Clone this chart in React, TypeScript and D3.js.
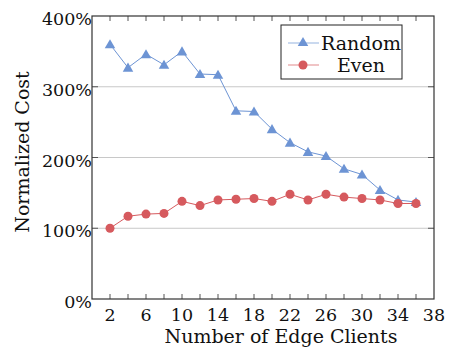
import React, { useRef, useEffect } from "react";
import * as d3 from "d3";

// number of edge clients
const clients = [2, 4, 6, 8, 10, 12, 14, 16, 18, 20, 22, 24, 26, 28, 30, 32, 34, 36];
// normalized cost in percent
const randomCost = [360, 327, 346, 331, 350, 318, 317, 266, 265, 240, 221, 208, 202, 184, 176, 154, 140, 137];
const evenCost = [100, 117, 120, 121, 138, 132, 140, 141, 142, 138, 148, 140, 148, 144, 142, 140, 135, 135];
const xTickLabels = [2, 6, 10, 14, 18, 22, 26, 30, 34, 38];
const yTickLabels = [0, 100, 200, 300, 400];
const seriesNames = ["Random", "Even"];

const App: React.FC = () => {
    const svgRef = useRef<SVGSVGElement | null>(null);

    useEffect(() => {
        const width = 450;
        const height = 349;
        const svg = d3.select(svgRef.current);
        svg.selectAll("*").remove();
        svg.attr("width", width).attr("height", height);

        const left = 92, right = 434, top = 16, bottom = 299;
        const font = "DejaVu Serif";
        const blue = "#6d94d4";
        const red = "#d65a5e";

        const x = d3.scaleLinear().domain([0, 38]).range([left, right]);
        const y = d3.scaleLinear().domain([0, 400]).range([bottom, top]);

        // grid lines
        svg.append("g")
            .selectAll("line")
            .data(yTickLabels.filter((v) => v > 0 && v < 400))
            .enter()
            .append("line")
            .attr("x1", left)
            .attr("x2", right)
            .attr("y1", (d) => y(d))
            .attr("y2", (d) => y(d))
            .attr("stroke", "#c8c8c8")
            .attr("stroke-width", 1);

        // inward ticks, every 2 on x, every 100 on y
        const minorX = d3.range(2, 38, 2);
        const ticks = svg.append("g").attr("stroke", "#555").attr("stroke-width", 1);
        minorX.forEach((v) => {
            ticks.append("line").attr("x1", x(v)).attr("x2", x(v)).attr("y1", bottom).attr("y2", bottom - 5);
            ticks.append("line").attr("x1", x(v)).attr("x2", x(v)).attr("y1", top).attr("y2", top + 5);
        });
        yTickLabels.filter((v) => v > 0 && v < 400).forEach((v) => {
            ticks.append("line").attr("x1", left).attr("x2", left + 6).attr("y1", y(v)).attr("y2", y(v));
            ticks.append("line").attr("x1", right).attr("x2", right - 6).attr("y1", y(v)).attr("y2", y(v));
        });

        // frame
        svg.append("rect")
            .attr("x", left)
            .attr("y", top)
            .attr("width", right - left)
            .attr("height", bottom - top)
            .attr("fill", "none")
            .attr("stroke", "#333")
            .attr("stroke-width", 1.2);

        const txt = (fs: number) => (g: d3.Selection<any, any, any, any>) =>
            g.style("font-family", font).style("font-size", `${fs}px`).attr("fill", "#111");

        // tick labels
        svg.append("g")
            .call(txt(17.5))
            .selectAll("text")
            .data(xTickLabels)
            .enter()
            .append("text")
            .attr("x", (d) => x(d))
            .attr("y", 321)
            .attr("text-anchor", "middle")
            .text((d) => d);

        svg.append("g")
            .call(txt(17.5))
            .selectAll("text")
            .data(yTickLabels)
            .enter()
            .append("text")
            .attr("x", left)
            .attr("y", (d) => y(d) + 9)
            .attr("text-anchor", "end")
            .text((d) => `${d}%`);

        // axis titles
        svg.append("text")
            .call(txt(19))
            .attr("x", 281)
            .attr("y", 343)
            .attr("text-anchor", "middle")
            .text("Number of Edge Clients");

        svg.append("text")
            .call(txt(19))
            .attr("transform", `translate(29, 152) rotate(-90)`)
            .attr("text-anchor", "middle")
            .text("Normalized Cost");

        // lines
        const line = d3.line<number>()
            .x((_, i) => x(clients[i]))
            .y((d) => y(d));

        const tri = d3.symbol().type(d3.symbolTriangle).size(48);

        svg.append("path")
            .attr("d", line(randomCost))
            .attr("fill", "none")
            .attr("stroke", blue)
            .attr("stroke-width", 1);
        svg.append("g")
            .selectAll("path")
            .data(randomCost)
            .enter()
            .append("path")
            .attr("d", tri)
            .attr("transform", (d, i) => `translate(${x(clients[i])}, ${y(d) + 1})`)
            .attr("fill", blue);

        svg.append("path")
            .attr("d", line(evenCost))
            .attr("fill", "none")
            .attr("stroke", red)
            .attr("stroke-width", 1);
        svg.append("g")
            .selectAll("circle")
            .data(evenCost)
            .enter()
            .append("circle")
            .attr("cx", (d, i) => x(clients[i]))
            .attr("cy", (d) => y(d))
            .attr("r", 4.5)
            .attr("fill", red);

        // legend
        const lg = svg.append("g");
        lg.append("rect")
            .attr("x", 281)
            .attr("y", 25)
            .attr("width", 121)
            .attr("height", 54)
            .attr("fill", "white")
            .attr("stroke", "#222")
            .attr("stroke-width", 1);
        [43, 65].forEach((ly, i) => {
            const c = i === 0 ? blue : red;
            lg.append("line")
                .attr("x1", 288)
                .attr("x2", 319)
                .attr("y1", ly)
                .attr("y2", ly)
                .attr("stroke", c)
                .attr("stroke-opacity", 0.6)
                .attr("stroke-width", 1.2);
            if (i === 0) {
                lg.append("path").attr("d", tri).attr("transform", `translate(303, ${ly})`).attr("fill", c);
            } else {
                lg.append("circle").attr("cx", 303).attr("cy", ly).attr("r", 4.5).attr("fill", c);
            }
            lg.append("text")
                .call(txt(19))
                .attr("x", 361)
                .attr("y", ly + 7)
                .attr("text-anchor", "middle")
                .text(seriesNames[i]);
        });
    }, []);

    return (
        <svg ref={svgRef} style={{ position: "absolute", left: 0, top: 0 }} />
    );
};

export default App;
